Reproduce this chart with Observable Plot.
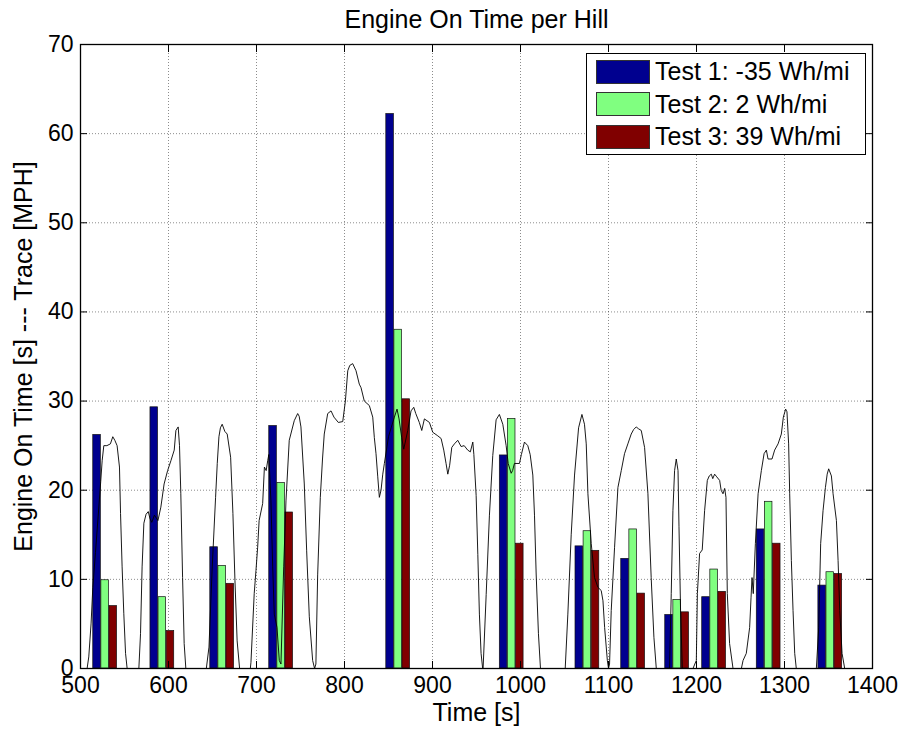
<!DOCTYPE html>
<html>
<head>
<meta charset="utf-8">
<script src="https://cdn.jsdelivr.net/npm/d3@7"></script>
<script src="https://cdn.jsdelivr.net/npm/@observablehq/plot@0.6"></script>
<style>
  html, body { margin: 0; padding: 0; background: #fff; }
  #wrap { position: relative; width: 904px; height: 732px; font-family: "Liberation Sans", Arial, sans-serif; }
  #legend { position: absolute; left: 586px; top: 53px; width: 280px; height: 102px; border: 1px solid #000; background: #fff; box-sizing: border-box; }
  .row { position: absolute; left: 9px; height: 25px; display: flex; align-items: center; }
  .sw { width: 54px; height: 24px; border: 1px solid #333; box-sizing: border-box; margin-right: 5px; }
  .lt { font-size: 25px; color: #000; white-space: nowrap; }
</style>
</head>
<body>
<div id="wrap"></div>
<script>
// ---- data ----
const hillTimes = [528, 593, 661, 728, 861, 990, 1076, 1128, 1178, 1220, 1282, 1352];
const test1 = [26.2, 29.3, 13.6, 27.2, 62.2, 23.9, 13.7, 12.3, 6.0, 8.0, 15.6, 9.3];
const test2 = [9.9, 8.0, 11.5, 20.8, 38.0, 28.0, 15.4, 15.6, 7.7, 11.1, 18.7, 10.8];
const test3 = [7.0, 4.2, 9.5, 17.5, 30.2, 14.0, 13.2, 8.4, 6.3, 8.6, 14.0, 10.6];
const seriesNames = ["Test 1: -35 Wh/mi", "Test 2: 2 Wh/mi", "Test 3: 39 Wh/mi"];
const seriesColors = ["#00008f", "#80ff80", "#800000"];

const traceTime = [505,507.5,509.4,512,514,517,520,523,524.6,526.5,530,534,536.7,539,541.6,544.3,545.5,547.3,549.2,551.2,553,
  566.3,568.2,570,572,574.5,577,579,581,584,588,591.3,595,599,602.7,606.5,608.4,611,612.5,614,616,617.8,619.7,
  643,646,649.7,653.5,655.4,657.3,659,661,664,666.7,670.6,673.2,675.5,678,680.8,
  693,693.7,697.4,699.4,701.3,703,707,709,711,712.7,714,716.4,718.4,720.2,723.3,725.9,727.8,730.9,733.5,737.2,742.9,746.8,748.5,750.5,754.3,757,760,763.8,766,
  767.5,769.5,772.5,775,777,780.9,784.7,788,793,798,801,803.7,806,809.3,813.1,816.8,818.8,822.5,828.2,832.1,833.9,835.8,837.8,839.6,841.5,843.5,845.3,850,853,856.7,859.7,862,865,867.3,871.9,875.6,878.7,881,885,887.8,890.8,896.5,900.3,906,909.8,912.8,915.4,917.4,919.5,921.9,924.9,928.7,932.5,936,940,943,945.8,947,949.6,951.5,953.3,955.2,957,
  957.5,961,964.7,968.5,972.3,976,979.9,983.7,986,989.4,991,993.1,998.8,1001,1004.5,1008.3,1011,1014,1015.9,1017.8,1020.4,1022.7,
  1050.8,1053.8,1057.6,1061.4,1066,1069.8,1072.7,1074.7,1076.6,1080.4,1084.1,1088,1091.7,1093.7,1095.6,1098.7,1100,
  1101.2,1103.1,1106.9,1110.7,1114.5,1118.2,1122,1125.8,1128.5,1131.5,1134,1137.2,1141,1144.8,1148.5,1151.6,1154.3,
  1169.4,1171.3,1173.2,1175.1,1177,1179,1180.1,1181.9,1183.9,
  1196,1199.8,1201,1203.5,1206.5,1209.2,1212.3,1214.5,1216.8,1218.5,1220.6,1223,1226.3,1228,1230.1,1232,1233.5,1235,1237.6,1241.5,
  1251,1252.9,1256.6,1260.4,1262,1263.1,1264.5,1266.9,1270,1273.7,1276.8,1279.4,1281.3,1285.8,1288.8,1292.7,1296.4,1298.7,1301.3,1302.8,1304.7,1305.9,1307.8,1309.7,1311.6,1313.4,
  1336.2,1338.9,1341.1,1343.8,1346.5,1348.5,1350.2,1353.3,1355.2,1359,1360.9,1362.8,1365.4,1368.4,1372];
const traceSpeed = [0,0,1.3,5,9.1,13,17,21,23.3,25,25,25.2,26,25.6,25,22.6,17.4,11.4,6.2,1.7,0,
  0,3.9,11.4,16.3,17.3,17.6,16.8,16.4,17.2,16.6,18.1,20.7,22.2,23.3,24.5,26.7,27.1,25,19.6,10.2,2.8,0,
  0,2.4,11.4,19.2,23,26,27,27.4,26.6,26.3,23.7,17.4,9.9,3.1,0,
  0,0.7,8.4,11,13.6,16.6,18.5,22.6,22.2,23.3,24,18.8,11.4,6.1,4.6,0.9,0.5,11.4,18.8,25.6,27.8,28.6,28.3,27.1,20.7,13.2,5.8,0.9,0,
  0.5,10.5,19.2,23.5,26.3,28.6,28.9,28.2,27.6,27.7,30,33.4,34,34.2,33.4,31.9,31.5,30,29.5,28.2,25.9,24.1,21.5,19.2,20,21.8,23,26,27,28.2,29.1,28,25.9,24.6,26.7,28.9,29.3,28.6,27.6,26.7,28,27.6,26.5,26.1,25.8,24.5,23,21.8,22.8,24.8,25.2,25.6,24.9,25,24.5,24.3,25.4,24,19.4,12.8,6.1,1.7,0,
  0,8.3,17.2,23.9,27.9,28.5,27.4,25,23,21.9,22.2,23,23,24,25.4,25,24,21.7,17.2,10.6,3.9,0,
  0,6.1,15,21.7,27,28.5,27.4,25.2,19.6,14,10.2,9.1,8.75,7.6,4.6,0.9,0,
  0.5,6.5,13.6,20.3,22.2,24.1,25.2,26.3,26.8,27.1,26.9,26.7,24.8,19.6,10.2,3.5,0,
  0,8.4,17.7,22.2,23.5,22.2,15.9,6.5,0,
  0,0.9,8.4,12.9,13.3,17.7,21.1,21.6,21.8,21.3,21.8,21.5,21.1,20,19.6,20.2,19.2,8.4,2.8,0,
  0,0.9,1.7,4.6,8,10.2,8.4,14,19.6,22.2,24.1,24.5,23.5,23.5,24.5,25.2,26.3,28.2,29.1,28.8,25.2,19.6,12.1,6.5,1.7,0,
  0,4.6,14,17.7,20.3,21.8,22.4,21.6,19.6,16.6,12.1,6.5,1.7,0,0];

const xTicks = [500, 600, 700, 800, 900, 1000, 1100, 1200, 1300, 1400];
const yTicks = [0, 10, 20, 30, 40, 50, 60, 70];

// ---- derived tables ----
const barSpacing = 9.2, barWidth = 8.6;
const bars = [];
[test1, test2, test3].forEach((vals, i) => {
  vals.forEach((v, j) => {
    const c = hillTimes[j] + (i - 1) * barSpacing;
    bars.push({x1: c - barWidth / 2, x2: c + barWidth / 2, v, s: seriesNames[i]});
  });
});
const trace = traceTime.map((t, i) => ({t, v: traceSpeed[i]}));

const font = "Liberation Sans, Arial, sans-serif";
const gridStyle = {stroke: "#000", strokeOpacity: 0.45, strokeDasharray: "1,2", strokeWidth: 1};
const fmt = d => String(d);

const chart = Plot.plot({
  width: 904,
  height: 732,
  marginLeft: 80,
  marginRight: 32,
  marginTop: 44,
  marginBottom: 64,
  style: {fontFamily: font, fontSize: "23px", background: "#fff", color: "#000"},
  x: {domain: [500, 1400], ticks: xTicks, label: null},
  y: {domain: [0, 70], ticks: yTicks, label: null},
  color: {domain: seriesNames, range: seriesColors},
  marks: [
    Plot.gridX(xTicks, gridStyle),
    Plot.gridY(yTicks, gridStyle),
    Plot.rectY(bars, {x1: "x1", x2: "x2", y1: 0, y2: "v", fill: "s", stroke: "#111", strokeWidth: 0.7}),
    Plot.line(trace, {x: "t", y: "v", stroke: "#000", strokeWidth: 0.9}),
    Plot.axisX(xTicks, {anchor: "bottom", tickSize: -7, text: null, label: null, strokeWidth: 1}),
    Plot.axisX(xTicks, {anchor: "top", tickSize: -7, text: null, label: null, strokeWidth: 1}),
    Plot.axisY(yTicks, {anchor: "left", tickSize: -7, text: null, label: null, strokeWidth: 1}),
    Plot.axisY(yTicks, {anchor: "right", tickSize: -7, text: null, label: null, strokeWidth: 1}),
    Plot.axisX(xTicks, {anchor: "bottom", tickSize: 0, tickPadding: 8, label: null, tickFormat: fmt, fontSize: 23}),
    Plot.axisY(yTicks, {anchor: "left", tickSize: 0, tickPadding: 7, label: null, tickFormat: fmt, fontSize: 23}),
    Plot.frame({stroke: "#000", strokeWidth: 1.3}),
    Plot.text(["Engine On Time per Hill"], {frameAnchor: "top", dy: -34, fontSize: 25, text: d => d}),
    Plot.text(["Time [s]"], {frameAnchor: "bottom", dy: 52, fontSize: 25, text: d => d}),
    Plot.text(["Engine On Time [s] --- Trace [MPH]"], {frameAnchor: "left", dx: -57, rotate: -90, textAnchor: "middle", fontSize: 25, text: d => d})
  ]
});

const wrap = document.getElementById("wrap");
wrap.appendChild(chart);

// legend
const legend = document.createElement("div");
legend.id = "legend";
seriesNames.forEach((name, i) => {
  const row = document.createElement("div");
  row.className = "row";
  row.style.top = (5 + i * 32.5) + "px";
  const sw = document.createElement("div");
  sw.className = "sw";
  sw.style.background = seriesColors[i];
  const lt = document.createElement("span");
  lt.className = "lt";
  lt.textContent = name;
  row.appendChild(sw);
  row.appendChild(lt);
  legend.appendChild(row);
});
wrap.appendChild(legend);
</script>
</body>
</html>
